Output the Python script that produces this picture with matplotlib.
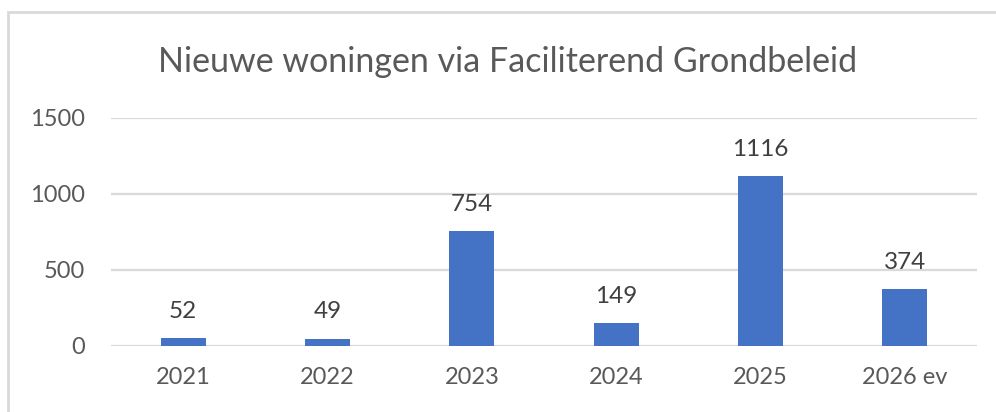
import matplotlib
matplotlib.use("Agg")
import matplotlib.pyplot as plt
from matplotlib.patches import Rectangle

# Data
categories = ["2021", "2022", "2023", "2024", "2025", "2026 ev"]
woningen = [52, 49, 754, 149, 1116, 374]
y_ticks = [0, 500, 1000, 1500]
title = "Nieuwe woningen via Faciliterend Grondbeleid"

plt.rcParams["font.family"] = ["Lato", "DejaVu Sans"]

W, H, DPI = 996, 412, 100
fig = plt.figure(figsize=(W / DPI, H / DPI), dpi=DPI)
fig.patch.set_facecolor("white")

# Chart-area frame
fig.patches.append(Rectangle((8 / W, -0.1), 1.2, (H - 12) / H + 0.1,
                             transform=fig.transFigure, fill=False,
                             edgecolor="#d9d9d9", linewidth=2.0))

ax = fig.add_axes([111 / W, 66 / H, (977 - 111) / W, (346 - 118) / H])
x = range(len(categories))
ax.bar(x, woningen, width=0.31, color="#4472C4", zorder=3)

ax.set_ylim(0, 1500)
ax.set_xlim(-0.5, len(categories) - 0.5)
ax.set_yticks(y_ticks)
ax.set_xticks(list(x))
ax.set_xticklabels(categories)
ax.yaxis.grid(True, color="#d9d9d9", linewidth=1.6, zorder=0)
ax.set_axisbelow(True)
for s in ax.spines.values():
    s.set_visible(False)
ax.tick_params(axis="both", length=0, labelsize=17, labelcolor="#595959")
ax.tick_params(axis="y", pad=19)
ax.tick_params(axis="x", pad=15)

for xi, v in zip(x, woningen):
    ax.annotate(f"{v}", (xi, v), xytext=(0, 14.5), textcoords="offset points",
                ha="center", va="baseline", fontsize=17.5, color="#404040")

fig.text(508 / W, 1 - 72 / H, title, ha="center", va="baseline",
         fontsize=24.5, color="#595959")

fig.savefig("out.png", dpi=DPI)
